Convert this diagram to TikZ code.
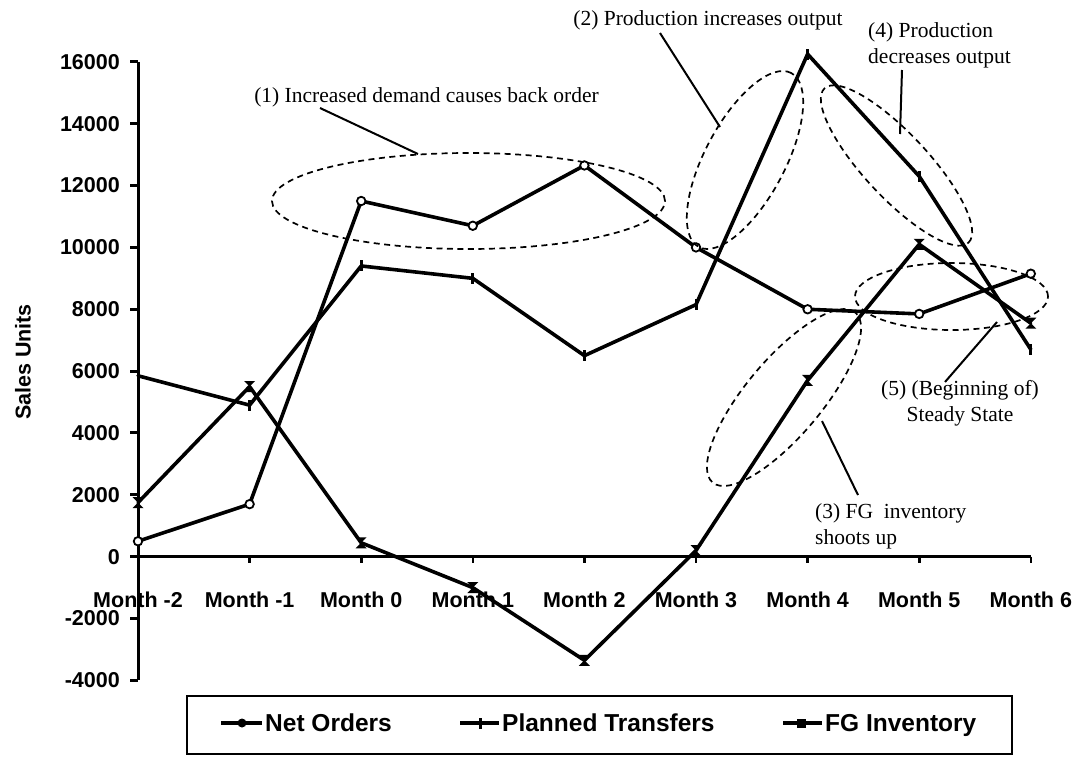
\documentclass[tikz,border=0pt]{standalone}
\usepackage{fontspec}
\setmainfont{Liberation Serif}
\setsansfont{Liberation Sans}
\usetikzlibrary{shapes.geometric}

\begin{document}
\begin{tikzpicture}[x=1pt,y=-1pt,
  axisline/.style={line width=3pt},
  series/.style={line width=3.6pt, line join=round, line cap=round},
  ticklab/.style={font=\sffamily\bfseries\fontsize{21.5}{24}\selectfont, inner sep=0pt},
  legtext/.style={font=\sffamily\bfseries\fontsize{24.5}{26}\selectfont, inner sep=0pt, anchor=base west},
  note/.style={font=\fontsize{21.5}{26}\selectfont, inner sep=0pt},
  leader/.style={line width=2pt},
  hoop/.style={draw, ellipse, line width=1.7pt, dash pattern=on 6pt off 4.5pt, inner sep=0pt},
  ringmark/.style={circle, draw, fill=white, line width=1.8pt, inner sep=0pt, minimum size=8.5pt},
  barmark/.style={rectangle, fill=black, inner sep=0pt, minimum width=3pt, minimum height=11pt},
  dotmark/.style={circle, fill=black, inner sep=0pt, minimum size=9pt},
  boxmark/.style={rectangle, fill=black, inner sep=0pt, minimum size=9pt}
]
\useasboundingbox (0,0) rectangle (1079,756);

% ---- data points (months -2..6, sales units) ----
\begin{scope}[shift={(138,556.7)}, x=111.6pt, y=0.03093pt]
  \foreach \v [count=\i from 0] in {500,1700,11500,10700,12650,10000,8000,7850,9150}
    \coordinate (no\i) at (\i,\v);
  \foreach \v [count=\i from 0] in {5850,4900,9400,9000,6500,8150,16250,12300,6700}
    \coordinate (pt\i) at (\i,\v);
  \foreach \v [count=\i from 0] in {1750,5500,450,-1000,-3350,200,5700,10100,7550}
    \coordinate (fg\i) at (\i,\v);
  \foreach \i in {0,...,8} \coordinate (tk\i) at (\i,0);
  \coordinate (ytop) at (0,16000);
  \coordinate (ybot) at (0,-4000);
\end{scope}

% ---- axes ----
\draw[axisline] (ytop) -- (ybot);
\draw[axisline] (tk0) -- (tk8);
\foreach \v [count=\k from 0] in {-4000,-2000,0,2000,4000,6000,8000,10000,12000,14000,16000}{
  \draw[axisline] (130,{680.4-61.86*\k}) -- (138,{680.4-61.86*\k});
  \node[ticklab, anchor=east] (yl\k) at (120,{680.4-61.86*\k}) {\v};
}
\foreach \i in {1,...,8}
  \draw[line width=2.6pt] (tk\i) -- ++(0,6);
\foreach \m [count=\i from 0] in {-2,-1,0,1,2,3,4,5,6}
  \node[ticklab] (xl\i) at ([yshift=-43pt]tk\i) {Month \m};
\node[ticklab, rotate=90] (ylabel) at (23,362) {Sales Units};

% ---- series ----
\draw[series] (no0) \foreach \i in {1,...,8}{ -- (no\i)};
\draw[series] (pt0) \foreach \i in {1,...,8}{ -- (pt\i)};
\draw[series] (fg0) \foreach \i in {1,...,8}{ -- (fg\i)};
\foreach \i in {0,...,8}{
  \node[ringmark] (nom\i) at (no\i) {};
  \node[barmark] (ptm\i) at (pt\i) {};
  \fill[shift={(fg\i)}] (-5.5,-5.5) -- (5.5,-5.5) -- (-5.5,5.5) -- (5.5,5.5) -- cycle;
}

% ---- highlighted regions ----
\node[hoop, minimum width=393pt, minimum height=96pt] (e1) at (468.5,201) {};
\node[hoop, minimum width=197pt, minimum height=80pt, rotate=62] (e2) at (745,160) {};
\node[hoop, minimum width=222pt, minimum height=76pt, rotate=50] (e3) at (784,397.5) {};
\node[hoop, minimum width=211pt, minimum height=64pt, rotate=-47] (e4) at (896.5,165.5) {};
\node[hoop, minimum width=193pt, minimum height=67pt] (e5) at (951.5,296.5) {};

% ---- annotations ----
\node[note] (n1) at (426.5,97.5) {(1) Increased demand causes back order};
\node[note] (n2) at (708,20) {(2) Production increases output};
\node[note, align=left, anchor=west] (n3) at (815,526.5) {(3) FG\ \ inventory\\shoots up};
\node[note, align=left, anchor=west] (n4) at (868,45) {(4) Production\\decreases output};
\node[note, align=center] (n5) at (960,403.5) {(5) (Beginning of)\\Steady State};

\coordinate (l1a) at (320,108);  \coordinate (l1b) at (418,154);
\coordinate (l2a) at (660,33);   \coordinate (l2b) at (720,127);
\coordinate (l3a) at (858,495);  \coordinate (l3b) at (822,421);
\coordinate (l4a) at (902,70);   \coordinate (l4b) at (900,134);
\coordinate (l5a) at (945,382);  \coordinate (l5b) at (997,322);
\draw[leader] (l1a) -- (l1b);
\draw[leader] (l2a) -- (l2b);
\draw[leader] (l3a) -- (l3b);
\draw[leader] (l4a) -- (l4b);
\draw[leader] (l5a) -- (l5b);

% ---- legend ----
\node[draw, line width=2.2pt, inner sep=0pt, minimum width=825pt, minimum height=58pt] (legend) at (599.5,725) {};
\coordinate (g1a) at (221,723); \coordinate (g1b) at (262,723);
\coordinate (g2a) at (460,723); \coordinate (g2b) at (499,723);
\coordinate (g3a) at (783,723); \coordinate (g3b) at (822,723);
\draw[line width=3.2pt] (g1a) -- (g1b);
\draw[line width=3.2pt] (g2a) -- (g2b);
\draw[line width=3.2pt] (g3a) -- (g3b);
\node[dotmark] (gm1) at (242,723) {};
\node[barmark] (gm2) at (480,723) {};
\node[boxmark] (gm3) at (801,723) {};
\node[legtext] (gt1) at (265,731) {Net Orders};
\node[legtext] (gt2) at (502,731) {Planned Transfers};
\node[legtext] (gt3) at (825,731) {FG Inventory};
\end{tikzpicture}
\end{document}
